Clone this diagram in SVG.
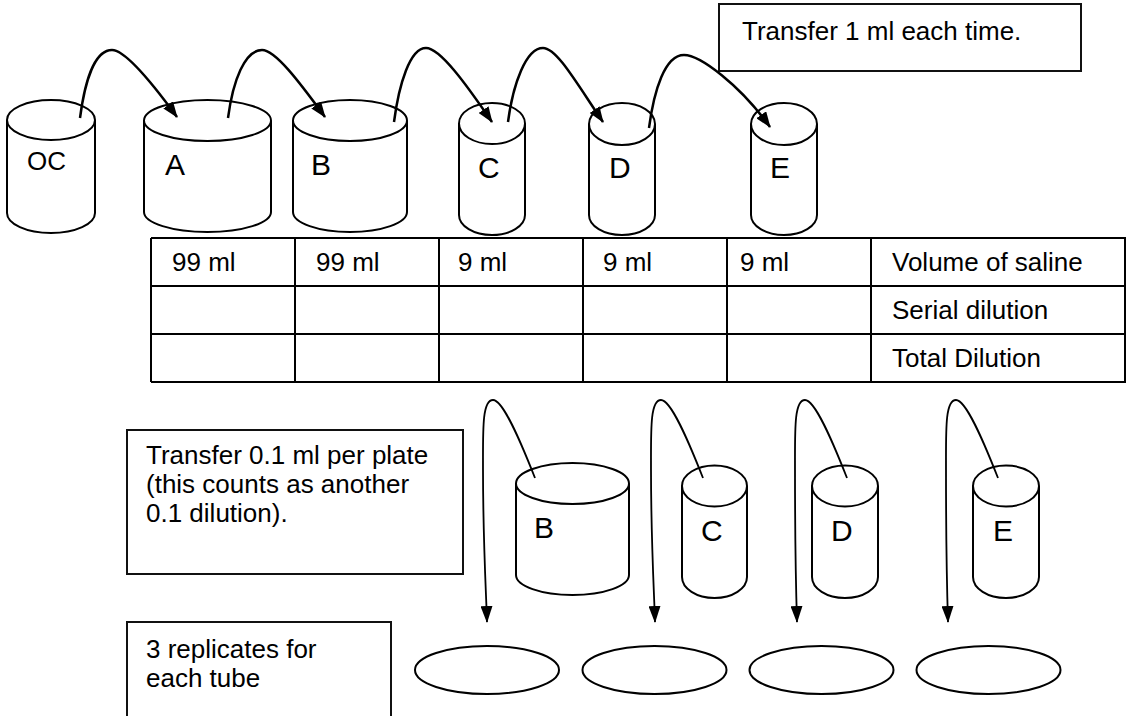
<svg xmlns="http://www.w3.org/2000/svg" width="1126" height="716" viewBox="0 0 1126 716">
<defs>
<style>
.cyl{fill:#fff;stroke:#000;stroke-width:2}
.box{fill:#fff;stroke:#111;stroke-width:2}
.t{font-family:"Liberation Sans",Arial,sans-serif;font-size:26px;fill:#000}
.lbl{font-family:"Liberation Sans",Arial,sans-serif;font-size:30px;fill:#000}
.grid{stroke:#000;stroke-width:2;fill:none}
.arc{fill:none;stroke:#000;stroke-width:2.5;marker-end:url(#ah)}
.drop{fill:none;stroke:#000;stroke-width:1.8;marker-end:url(#dh)}
.plate{fill:#fff;stroke:#000;stroke-width:2}
</style>
<marker id="ah" markerWidth="16" markerHeight="12" refX="15" refY="6" orient="auto" markerUnits="userSpaceOnUse"><path d="M0,0 L16,6 L0,12 z" fill="#000"/></marker>
<marker id="dh" markerWidth="17" markerHeight="12" refX="16" refY="6" orient="auto" markerUnits="userSpaceOnUse"><path d="M0,0 L17,6 L0,12 z" fill="#000"/></marker>
</defs>
<rect width="1126" height="716" fill="#fff"/>

<g id="note-top">
<rect class="box" x="719" y="4" width="362" height="67"/>
<text class="t" x="742" y="40">Transfer 1 ml each time.</text>
</g>

<g id="tube-OC">
<path class="cyl" d="M7,120 L7,213 A44,20 0 0 0 95,213 L95,120"/>
<ellipse class="cyl" cx="51" cy="120" rx="44" ry="20"/>
<text class="t" x="27" y="170">OC</text>
</g>
<g id="tube-A">
<path class="cyl" d="M144,120.5 L144,212 A63.5,20 0 0 0 271,212 L271,120.5"/>
<ellipse class="cyl" cx="207.5" cy="120.5" rx="63.5" ry="20.5"/>
<text class="lbl" x="165" y="175">A</text>
</g>
<g id="tube-B">
<path class="cyl" d="M293,120.5 L293,212 A57,20 0 0 0 407,212 L407,120.5"/>
<ellipse class="cyl" cx="350" cy="120.5" rx="57" ry="20.5"/>
<text class="lbl" x="311" y="175">B</text>
</g>
<g id="tube-C">
<path class="cyl" d="M459,123.5 L459,215 A33,20 0 0 0 525,215 L525,123.5"/>
<ellipse class="cyl" cx="492" cy="123.5" rx="33" ry="20.5"/>
<text class="lbl" x="478" y="178">C</text>
</g>
<g id="tube-D">
<path class="cyl" d="M589,124 L589,215 A33,20 0 0 0 655,215 L655,124"/>
<ellipse class="cyl" cx="622" cy="124" rx="33" ry="21"/>
<text class="lbl" x="609" y="178">D</text>
</g>
<g id="tube-E">
<path class="cyl" d="M751,124 L751,215 A33,20 0 0 0 817,215 L817,124"/>
<ellipse class="cyl" cx="784" cy="124" rx="33" ry="21"/>
<text class="lbl" x="770" y="178">E</text>
</g>

<g id="table">
<path class="grid" d="M151,238 H1126 M151,286 H1126 M151,334 H1126 M151,382 H1126 M151,238 V382 M295,238 V382 M439,238 V382 M583,238 V382 M727,238 V382 M871,238 V382 M1125,238 V382"/>
<text class="t" x="172" y="271">99 ml</text>
<text class="t" x="316" y="271">99 ml</text>
<text class="t" x="458" y="271">9 ml</text>
<text class="t" x="603" y="271">9 ml</text>
<text class="t" x="740" y="271">9 ml</text>
<text class="t" x="892" y="271">Volume of saline</text>
<text class="t" x="892" y="319">Serial dilution</text>
<text class="t" x="892" y="367">Total Dilution</text>
</g>

<g id="note-plate">
<rect class="box" x="127" y="430" width="336" height="144"/>
<text class="t" x="146" y="464">Transfer 0.1 ml per plate</text>
<text class="t" x="146" y="493">(this counts as another</text>
<text class="t" x="146" y="522">0.1 dilution).</text>
</g>

<g id="note-replicates">
<rect class="box" x="127" y="622" width="264" height="110"/>
<text class="t" x="146" y="658">3 replicates for</text>
<text class="t" x="146" y="687">each tube</text>
</g>

<g id="tube-B2">
<path class="cyl" d="M516,483.5 L516,575 A56.5,20 0 0 0 629,575 L629,483.5"/>
<ellipse class="cyl" cx="572.5" cy="483.5" rx="56.5" ry="20.5"/>
<text class="lbl" x="534" y="538">B</text>
</g>
<g id="tube-C2">
<path class="cyl" d="M682,486 L682,577 A32.5,21 0 0 0 747,577 L747,486"/>
<ellipse class="cyl" cx="714.5" cy="486" rx="32.5" ry="20.5"/>
<text class="lbl" x="701" y="541">C</text>
</g>
<g id="tube-D2">
<path class="cyl" d="M812,486 L812,577 A33,21 0 0 0 878,577 L878,486"/>
<ellipse class="cyl" cx="845" cy="486" rx="33" ry="20.5"/>
<text class="lbl" x="831" y="541">D</text>
</g>
<g id="tube-E2">
<path class="cyl" d="M973,486 L973,577 A33,21 0 0 0 1039,577 L1039,486"/>
<ellipse class="cyl" cx="1006" cy="486" rx="33" ry="20.5"/>
<text class="lbl" x="993" y="541">E</text>
</g>

<g id="plates">
<ellipse class="plate" cx="487" cy="670" rx="72" ry="24"/>
<ellipse class="plate" cx="654.5" cy="670" rx="72" ry="24"/>
<ellipse class="plate" cx="821.5" cy="670" rx="72" ry="24"/>
<ellipse class="plate" cx="988.5" cy="670" rx="72" ry="24"/>
</g>

<g id="connectors">
<path class="arc" d="M80,118 C85,80 95,50 112,50 C125,50 150,80 177,117"/>
<path class="arc" d="M228,118 C233,80 245,50 262,50 C275,50 298,80 325,117"/>
<path class="arc" d="M394,122 C399,84 410,48 426,48 C440,48 466,84 492,122"/>
<path class="arc" d="M508,122 C513,84 526,48 543,48 C557,48 577,84 603,122"/>
<path class="arc" d="M649,128 C654,90 665,55 684,55 C700,55 740,85 770,127"/>
<path class="drop" d="M535,478 C520,440 503,400 493,400 C482,400 483,430 483,470 C483,540 486,590 487,622"/>
<path class="drop" d="M703,478 C688,440 671,400 661,400 C650,400 651,430 651,470 C651,540 654,590 655,622"/>
<path class="drop" d="M847,478 C832,440 815,400 805,400 C794,400 795,430 795,470 C795,540 796,590 797,622"/>
<path class="drop" d="M998,478 C983,440 966,400 956,400 C945,400 946,430 946,470 C946,540 947,590 948,622"/>
</g>
</svg>
